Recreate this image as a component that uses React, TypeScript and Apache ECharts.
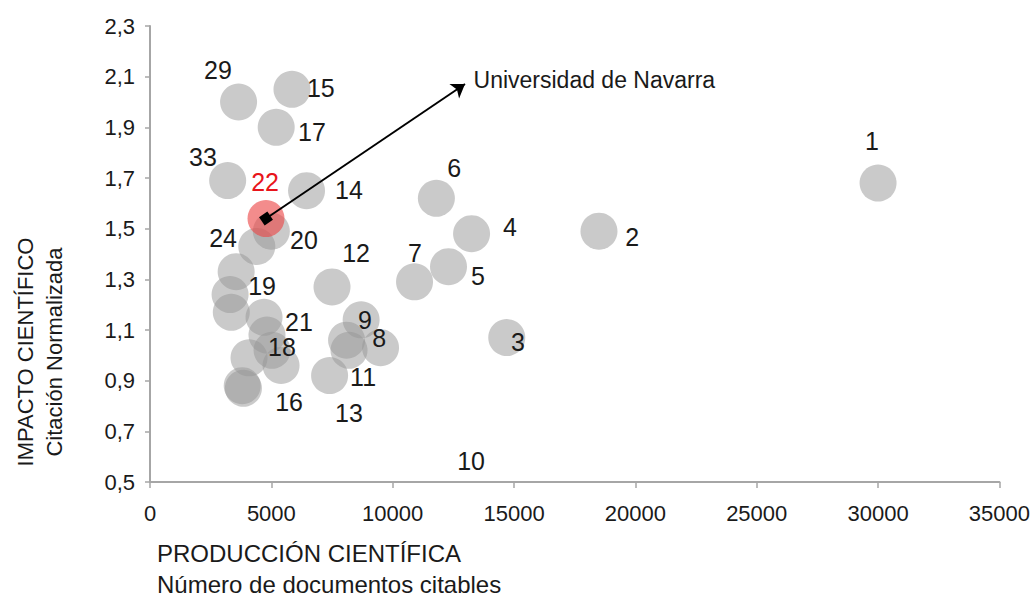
import React, { useEffect, useRef } from "react";
import * as echarts from "echarts";

// Bubbles (documentos citables, citación normalizada)
const puntosX = [30000, 18500, 14700, 13250, 12300, 11800, 10900, 9500, 8700, 7400, 7500, 8100, 8200, 6450, 5850, 5200, 3650, 3200, 5000, 4400, 3550, 3300, 3350, 4700, 4820, 5030, 5400, 4080, 3800, 3850];
const puntosY = [1.68, 1.49, 1.07, 1.48, 1.35, 1.62, 1.29, 1.03, 1.14, 0.92, 1.27, 1.06, 1.02, 1.65, 2.05, 1.90, 2.00, 1.69, 1.49, 1.43, 1.33, 1.24, 1.17, 1.15, 1.08, 1.02, 0.96, 0.99, 0.88, 0.87];

// Universidad de Navarra (22)
const navarraX = 4780;
const navarraY = 1.54;

// Number labels
const etiquetas = ["1", "2", "3", "4", "5", "6", "7", "8", "9", "10", "11", "12", "13", "14", "15", "16", "17", "18", "19", "20", "21", "22", "24", "29", "33"];
const etiquetasX = [29750, 19870, 15160, 14830, 13510, 12530, 10920, 9440, 8860, 13230, 8780, 8490, 8200, 8200, 7040, 5730, 6675, 5440, 4620, 6345, 6140, 4740, 3010, 2800, 2180];
const etiquetasY = [1.846, 1.467, 1.053, 1.506, 1.313, 1.739, 1.404, 1.068, 1.139, 0.583, 0.914, 1.404, 0.772, 1.653, 2.055, 0.816, 1.881, 1.033, 1.274, 1.455, 1.132, 1.684, 1.463, 2.126, 1.783];

const flechaFin = [12980, 2.071];
const textoNavarra = "Universidad de Navarra";
const textoNavarraPos = [13310, 2.087];

const yTicks = [0.5, 0.7, 0.9, 1.1, 1.3, 1.5, 1.7, 1.9, 2.1, 2.3];
const xTicks = [0, 5000, 10000, 15000, 20000, 25000, 30000, 35000];

const tituloX1 = "PRODUCCIÓN CIENTÍFICA";
const tituloX2 = "Número de documentos citables";
const tituloY1 = "IMPACTO CIENTÍFICO";
const tituloY2 = "Citación Normalizada";

export default function App() {
  const ref = useRef<HTMLDivElement>(null);
  useEffect(() => {
    if (!ref.current) return;
    const chart = echarts.init(ref.current, null, { renderer: "svg" });
    const bubbles = puntosX.map((x, i) => [x, puntosY[i]]);
    const labelData = etiquetas.map((t, i) => ({
      value: [etiquetasX[i], etiquetasY[i], t],
      label: t === "22" ? { color: "#e8141b" } : undefined,
    }));
    const sans = "Liberation Sans, Arial, sans-serif";
    const narrow = "Liberation Sans Narrow, Liberation Sans, Arial, sans-serif";
    chart.setOption({
      animation: false,
      backgroundColor: "#ffffff",
      grid: { left: 150, right: 32, top: 26, bottom: 117 },
      xAxis: {
        type: "value",
        min: 0,
        max: 35000,
        interval: 5000,
        splitLine: { show: false },
        axisLine: { show: true, lineStyle: { color: "#a6a6a6", width: 2 } },
        axisTick: { show: true, length: 6, lineStyle: { color: "#a6a6a6", width: 1.5 }, customValues: xTicks },
        axisLabel: {
          customValues: xTicks,
          margin: 20,
          color: "#1a1a1a",
          fontFamily: narrow,
          fontSize: 22,
          formatter: (v: number) => String(v),
        },
      },
      yAxis: {
        type: "value",
        min: 0.5,
        max: 2.3,
        splitLine: { show: false },
        axisLine: { show: true, lineStyle: { color: "#a6a6a6", width: 2 } },
        axisTick: { show: true, length: 5, lineStyle: { color: "#a6a6a6", width: 1.5 }, customValues: yTicks },
        axisLabel: {
          customValues: yTicks,
          margin: 15,
          color: "#1a1a1a",
          fontFamily: sans,
          fontSize: 22,
          formatter: (v: number) => v.toFixed(1).replace(".", ","),
        },
      },
      series: [
        {
          type: "scatter",
          data: bubbles,
          symbolSize: 37,
          itemStyle: { color: "rgba(150,150,150,0.5)", opacity: 1 },
          silent: true,
        },
        {
          type: "scatter",
          data: [[navarraX, navarraY]],
          symbolSize: 37,
          itemStyle: { color: "rgba(235,70,70,0.62)", opacity: 1 },
          silent: true,
          markLine: {
            silent: true,
            animation: false,
            label: { show: false },
            lineStyle: { color: "#000000", width: 2, type: "solid" },
            data: [
              [
                { coord: [navarraX, navarraY], symbol: "rect", symbolSize: 10 },
                { coord: flechaFin, symbol: "arrow", symbolSize: 13 },
              ],
            ],
          },
        },
        {
          type: "scatter",
          data: labelData,
          symbolSize: 1,
          itemStyle: { color: "rgba(0,0,0,0)", opacity: 1 },
          silent: true,
          label: {
            show: true,
            position: "inside",
            formatter: (p: any) => p.value[2],
            color: "#1a1a1a",
            fontFamily: sans,
            fontSize: 25,
          },
        },
        {
          type: "scatter",
          data: [[textoNavarraPos[0], textoNavarraPos[1]]],
          symbolSize: 1,
          itemStyle: { color: "rgba(0,0,0,0)", opacity: 1 },
          silent: true,
          label: {
            show: true,
            position: "right",
            distance: 0,
            formatter: textoNavarra,
            color: "#1a1a1a",
            fontFamily: sans,
            fontSize: 23,
          },
        },
      ],
      graphic: [
        {
          type: "text",
          left: 157,
          top: 541,
          style: { text: tituloX1, fontFamily: narrow, fontSize: 24, fill: "#1a1a1a" },
        },
        {
          type: "text",
          left: 157,
          top: 572,
          style: { text: tituloX2, fontFamily: narrow, fontSize: 24, fill: "#1a1a1a" },
        },
        {
          type: "text",
          x: 25,
          y: 352,
          rotation: Math.PI / 2,
          style: { text: tituloY1, fontFamily: sans, fontSize: 22, fill: "#1a1a1a", align: "center", verticalAlign: "middle" },
        },
        {
          type: "text",
          x: 54,
          y: 352,
          rotation: Math.PI / 2,
          style: { text: tituloY2, fontFamily: sans, fontSize: 22, fill: "#1a1a1a", align: "center", verticalAlign: "middle" },
        },
      ],
    });
    return () => chart.dispose();
  }, []);
  return <div ref={ref} style={{ position: "fixed", left: 0, top: 0, width: 1033, height: 599 }} />;
}
